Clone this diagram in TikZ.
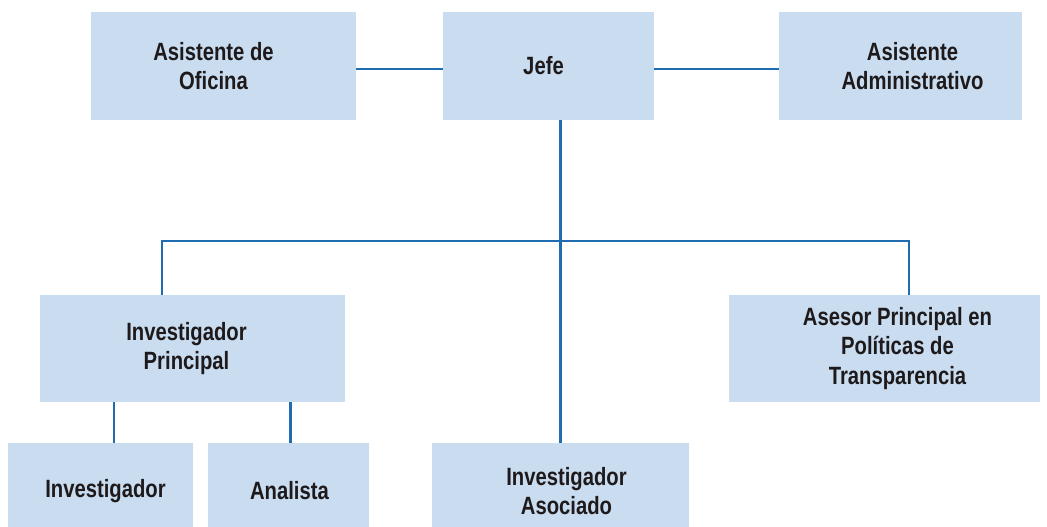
\documentclass[tikz,border=0pt]{standalone}
\usepackage{fontspec}
\newfontfamily\boxfont{Liberation Sans}[FakeStretch=0.81]
\definecolor{boxfill}{HTML}{C9DCF0}
\definecolor{linkcol}{HTML}{1F6DB0}
\definecolor{txt}{HTML}{1E1A1B}
\tikzset{
  orgbox/.style={rectangle, fill=boxfill, inner sep=0pt},
  boxtext/.style={inner sep=0pt, align=center,
    font=\boxfont\bfseries\fontsize{25}{29.5}\selectfont, text=txt},
  link/.style={draw=linkcol, line width=2.6pt}
}
\begin{document}
\begin{tikzpicture}[x=1pt,y=-1pt]
\clip (0,0) rectangle (1047,527);
\fill[white] (0,0) rectangle (1047,527);
\node[orgbox, minimum width=265pt, minimum height=108pt,
  label={[boxtext,xshift=-10pt]center:{Asistente de\\Oficina}}] (ao) at (223.5,66) {};
\node[orgbox, minimum width=211pt, minimum height=108pt,
  label={[boxtext,xshift=-5pt]center:{Jefe}}] (jefe) at (548.5,66) {};
\node[orgbox, minimum width=243pt, minimum height=108pt,
  label={[boxtext,xshift=12pt]center:{Asistente\\Administrativo}}] (aa) at (900.5,66) {};
\node[orgbox, minimum width=305pt, minimum height=107pt,
  label={[boxtext,xshift=-6pt]center:{Investigador\\Principal}}] (ip) at (192.5,348.5) {};
\node[orgbox, minimum width=311pt, minimum height=107pt,
  label={[boxtext,xshift=13pt]center:{Asesor Principal en\\Políticas de\\Transparencia}}] (ap) at (884.5,348.5) {};
\node[orgbox, minimum width=185pt, minimum height=96pt,
  label={[boxtext,xshift=5pt]center:{Investigador}}] (inv) at (100.5,491) {};
\node[orgbox, minimum width=161pt, minimum height=96pt,
  label={[boxtext,xshift=1pt]center:{Analista}}] (an) at (288.5,491) {};
\node[orgbox, minimum width=257pt, minimum height=96pt,
  label={[boxtext,xshift=6pt]center:{Investigador\\Asociado}}] (ia) at (560.5,491) {};
\coordinate (busL) at (162,241);
\coordinate (busR) at (909,241);
\draw[link] ([yshift=-3pt]ao.east) -- ([yshift=-3pt]jefe.west);
\draw[link] ([yshift=-3pt]jefe.east) -- ([yshift=-3pt]aa.west);
\draw[link] (ia.north) -- (ia.north |- jefe.south);
\draw[link] (busL |- ip.north) -- (busL) -- (busR) -- (busR |- ap.north);
\draw[link] (ip.south -| inv.north) ++(13.5,0) coordinate (d1) -- (d1 |- inv.north);
\draw[link] (ip.south -| an.north) ++(1.8,0) coordinate (d2) -- (d2 |- an.north);
\end{tikzpicture}
\end{document}
